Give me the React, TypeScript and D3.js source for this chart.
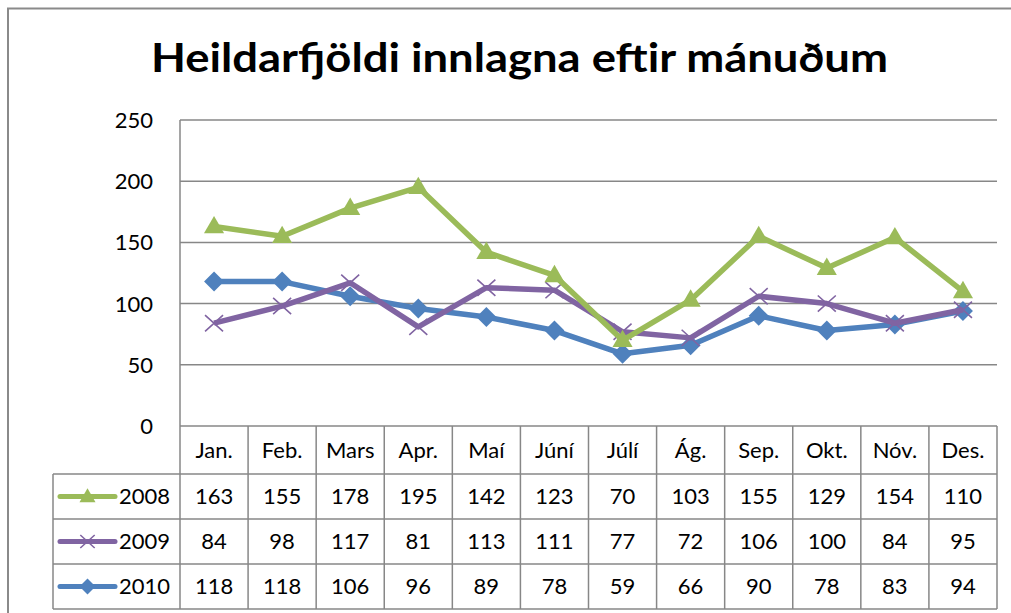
import * as d3 from 'd3';

const months = ['Jan.', 'Feb.', 'Mars', 'Apr.', 'Maí', 'Júní', 'Júlí', 'Ág.', 'Sep.', 'Okt.', 'Nóv.', 'Des.'];
const values2008 = [163, 155, 178, 195, 142, 123, 70, 103, 155, 129, 154, 110];
const values2009 = [84, 98, 117, 81, 113, 111, 77, 72, 106, 100, 84, 95];
const values2010 = [118, 118, 106, 96, 89, 78, 59, 66, 90, 78, 83, 94];
const yTicks = [0, 50, 100, 150, 200, 250];

const series = [
  { name: '2008', values: values2008, color: '#9BBB59', marker: 'triangle' },
  { name: '2009', values: values2009, color: '#8064A2', marker: 'x' },
  { name: '2010', values: values2010, color: '#4F81BD', marker: 'diamond' },
];

const W = 1011;
const H = 613;
const FONT = 'Lato, "Open Sans", sans-serif';
const GRID = '#878787';

function Marker({ type, color, x, y, scale = 1 }: { type: string; color: string; x: number; y: number; scale?: number }) {
  if (type === 'triangle') {
    const p = d3.symbol(d3.symbolTriangle, 175 * scale * scale)();
    return <path d={p ?? ''} transform={`translate(${x},${y + 1})`} fill={color} />;
  }
  if (type === 'diamond') {
    const p = d3.symbol(d3.symbolSquare, 200 * scale * scale)();
    return <path d={p ?? ''} transform={`translate(${x},${y}) rotate(45)`} fill={color} />;
  }
  const s = 9 * scale;
  return (
    <path
      d={`M${-s},${-s * 0.9}L${s},${s * 0.9}M${-s},${s * 0.9}L${s},${-s * 0.9}`}
      transform={`translate(${x},${y})`}
      stroke={color}
      strokeWidth={1.6}
      fill="none"
    />
  );
}

export default function App() {
  const plot = { left: 180, right: 997, top: 120, bottom: 426 };
  const x = d3.scaleBand().domain(months).range([plot.left, plot.right]);
  const y = d3.scaleLinear().domain([0, 250]).range([plot.bottom, plot.top]);

  const headerH = 48;
  const rowH = 45;
  const tableLeft = 53;
  const rowTop = (i: number) => plot.bottom + headerH + i * rowH;
  const tableBottom = rowTop(series.length);

  const line = d3
    .line<number>()
    .x((_, i) => (x(months[i]) ?? 0) + x.bandwidth() / 2)
    .y((d) => y(d));

  return (
    <svg width={W} height={H} style={{ position: 'absolute', left: 0, top: 0, background: '#fff' }} fontFamily={FONT}>
      {/* chart frame */}
      <path d={`M8,${H}V8.5H${W}`} fill="none" stroke="#8a8a8a" strokeWidth={2} />

      <text x={(151 + 888) / 2} y={72} textAnchor="middle" fontSize={41} fontWeight={700} textLength={737} lengthAdjust="spacingAndGlyphs" fill="#000">
        Heildarfjöldi innlagna eftir mánuðum
      </text>

      {/* gridlines + y labels */}
      {yTicks.map((t) => (
        <g key={t}>
          <line x1={plot.left} x2={plot.right} y1={y(t)} y2={y(t)} stroke={GRID} strokeWidth={1.5} />
          <text x={153} y={y(t)} dy="0.36em" textAnchor="end" fontSize={22} fill="#000">
            {t}
          </text>
        </g>
      ))}
      <line x1={plot.left} x2={plot.left} y1={plot.top} y2={tableBottom} stroke={GRID} strokeWidth={1.5} />

      {/* data table */}
      {months.map((m) => (
        <g key={m}>
          <line x1={(x(m) ?? 0) + x.bandwidth()} x2={(x(m) ?? 0) + x.bandwidth()} y1={plot.bottom} y2={tableBottom} stroke={GRID} strokeWidth={1.5} />
          <text x={(x(m) ?? 0) + x.bandwidth() / 2} y={plot.bottom + headerH / 2} dy="0.36em" textAnchor="middle" fontSize={22} fill="#000">
            {m}
          </text>
        </g>
      ))}
      {series.map((s, r) => (
        <g key={s.name}>
          <line x1={tableLeft} x2={plot.right} y1={rowTop(r)} y2={rowTop(r)} stroke={GRID} strokeWidth={1.5} />
          <line x1={60} x2={115} y1={rowTop(r) + rowH / 2} y2={rowTop(r) + rowH / 2} stroke={s.color} strokeWidth={5} strokeLinecap="round" />
          <Marker type={s.marker} color={s.color} x={87.5} y={rowTop(r) + rowH / 2} scale={0.8} />
          <text x={119} y={rowTop(r) + rowH / 2} dy="0.36em" fontSize={22} fill="#000">
            {s.name}
          </text>
          {s.values.map((v, i) => (
            <text key={i} x={(x(months[i]) ?? 0) + x.bandwidth() / 2} y={rowTop(r) + rowH / 2} dy="0.36em" textAnchor="middle" fontSize={22} fill="#000">
              {v}
            </text>
          ))}
        </g>
      ))}
      <line x1={tableLeft} x2={plot.right} y1={tableBottom} y2={tableBottom} stroke={GRID} strokeWidth={1.5} />
      <line x1={tableLeft} x2={tableLeft} y1={rowTop(0)} y2={tableBottom} stroke={GRID} strokeWidth={1.5} />

      {/* lines, drawn 2010 first so 2008 sits on top */}
      {[...series].reverse().map((s) => (
        <g key={s.name}>
          <path d={line(s.values) ?? ''} fill="none" stroke={s.color} strokeWidth={5.5} strokeLinejoin="round" />
          {s.values.map((v, i) => (
            <Marker key={i} type={s.marker} color={s.color} x={(x(months[i]) ?? 0) + x.bandwidth() / 2} y={y(v)} />
          ))}
        </g>
      ))}
    </svg>
  );
}
